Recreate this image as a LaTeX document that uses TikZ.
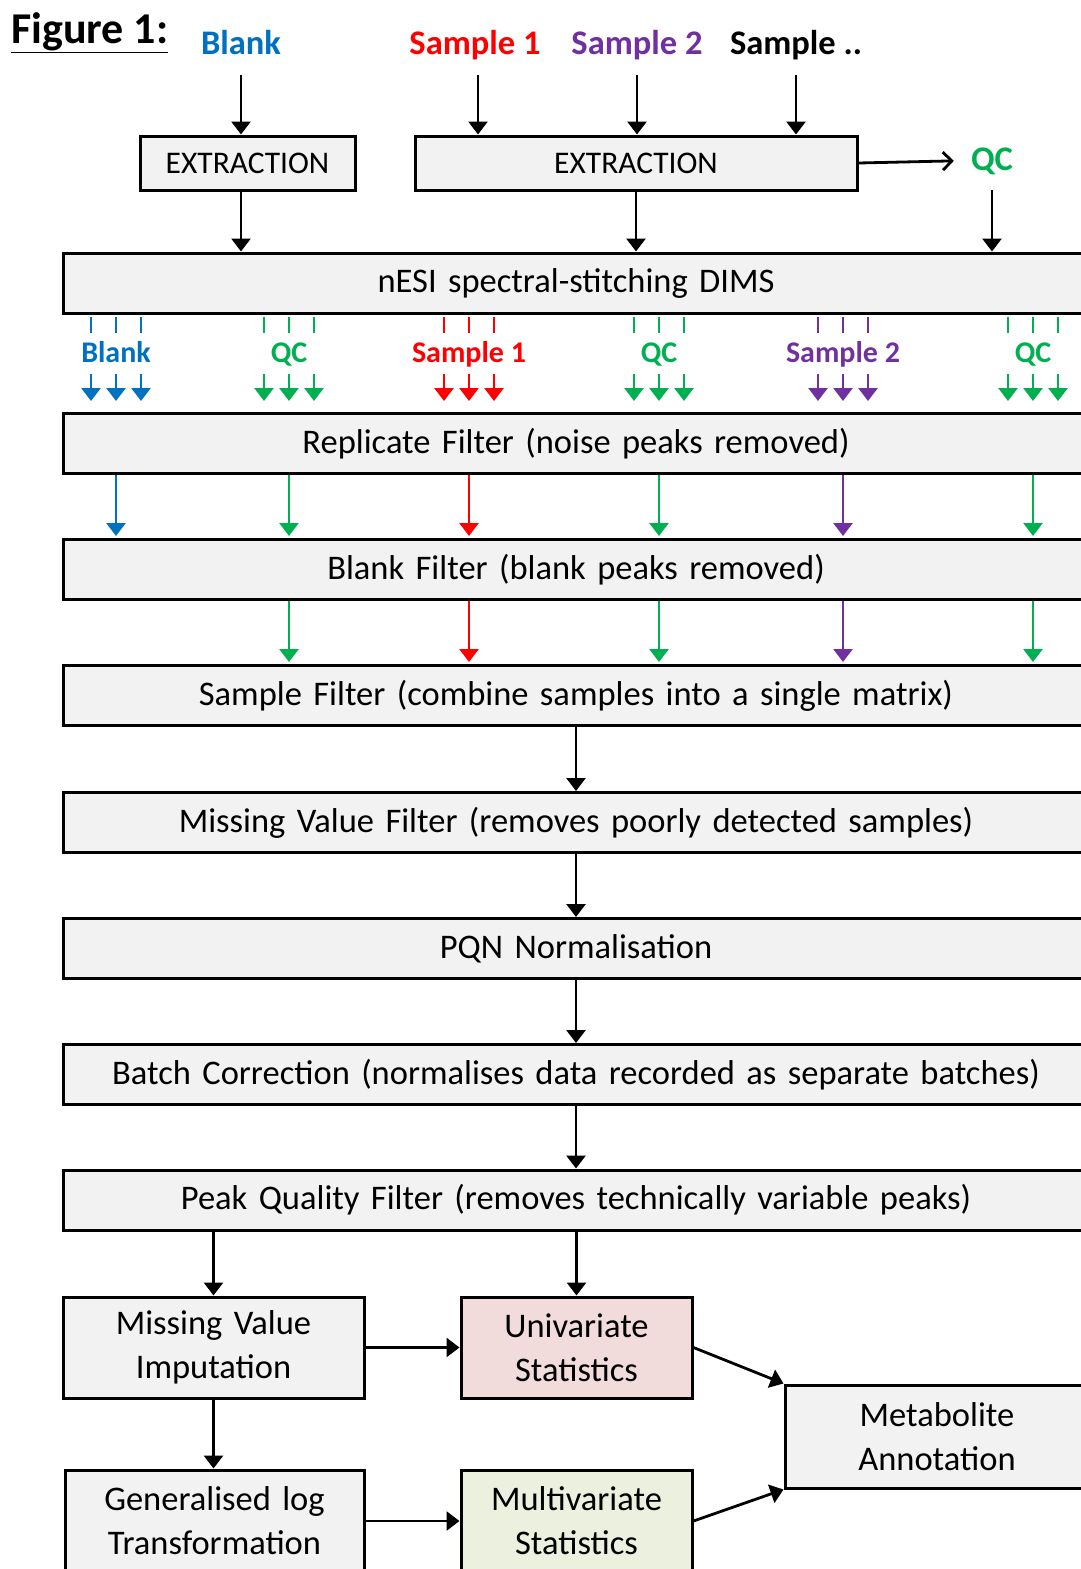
\documentclass[tikz,border=0pt]{standalone}
\usepackage{fontspec}
\setmainfont{Carlito}
\usetikzlibrary{calc,arrows.meta}

\definecolor{smpblue}{RGB}{0,112,192}
\definecolor{smpred}{RGB}{255,0,0}
\definecolor{smpgreen}{RGB}{0,176,80}
\definecolor{smppurple}{RGB}{112,48,160}
\definecolor{boxgray}{RGB}{242,242,242}
\definecolor{unipink}{RGB}{242,220,219}
\definecolor{multigreen}{RGB}{235,241,222}

\newcommand{\boxfont}{\fontsize{34.5}{44}\selectfont\spaceskip=0.33em\relax}
\newcommand{\extfont}{\fontsize{31.5}{38}\selectfont}
\newcommand{\toplabfont}{\fontsize{34.5}{40}\selectfont\bfseries}
\newcommand{\grplabfont}{\fontsize{30}{36}\selectfont\bfseries}

\begin{document}
\begin{tikzpicture}[x=1pt, y=-1pt,
  box/.style={draw, line width=3pt, fill=boxgray, inner sep=0pt, font=\boxfont, align=center},
  wide/.style={box, minimum width=1026pt, minimum height=60pt},
  arr/.style={-{Triangle[width=19pt,length=13pt]}, line width=2.8pt},
  tick/.style={line width=2.6pt}]

\useasboundingbox (0,0) rectangle (1080,1569);

% Title
\node[anchor=base west, inner sep=0pt, font=\fontsize{44}{50}\selectfont\bfseries] (title) at (11,43) {\underline{Figure 1:}};

% Input labels
\node[anchor=base, inner sep=0pt, font=\toplabfont, text=smpblue] (blank) at (241,54) {Blank};
\node[anchor=base, inner sep=0pt, font=\toplabfont, text=smpred] (smpa) at (475,54) {Sample 1};
\node[anchor=base, inner sep=0pt, font=\toplabfont, text=smppurple] (smpb) at (637,54) {Sample 2};
\node[anchor=base, inner sep=0pt, font=\toplabfont] (smpc) at (796,54) {Sample ..};

% Extraction
\node[box, font=\extfont, minimum width=215pt, minimum height=54pt] (ext1) at (247.5,163) {EXTRACTION};
\node[box, font=\extfont, minimum width=442pt, minimum height=54pt] (ext2) at (636,163) {EXTRACTION};
\node[anchor=base, inner sep=0pt, font=\toplabfont, text=smpgreen] (qctop) at (992,170) {QC};

\draw[arr] ($(blank.base)+(0,21)$) -- (blank.base |- ext1.north);
\draw[arr] ($(smpa.base)+(3,21)$) -- ($(smpa.base |- ext2.north)+(3,0)$);
\draw[arr] ($(smpb.base)+(0,21)$) -- (smpb.base |- ext2.north);
\draw[arr] ($(smpc.base)+(0,21)$) -- (smpc.base |- ext2.north);
\draw[-{Straight Barb[length=9pt,width=18pt]}, line width=2.8pt] (ext2.east) -- ($(qctop.west)+(-17,0)$);

% Main pipeline
\node[wide] (dims) at (576,283) {nESI spectral-stitching DIMS};
\node[wide] (rep) at (576,443.5) {Replicate Filter (noise peaks removed)};
\node[wide] (blkf) at (576,569.5) {Blank Filter (blank peaks removed)};
\node[wide] (smpf) at (576,695.5) {Sample Filter (combine samples into a single matrix)};
\node[wide] (mvf) at (576,822.5) {Missing Value Filter (removes poorly detected samples)};
\node[wide] (pqn) at (576,948.5) {PQN Normalisation};
\node[wide] (batch) at (576,1074.5) {Batch Correction (normalises data recorded as separate batches)};
\node[wide] (peak) at (576,1200) {Peak Quality Filter (removes technically variable peaks)};

\draw[arr] (blank.base |- ext1.south) -- (blank.base |- dims.north);
\draw[arr] (ext2.south) -- (ext2.south |- dims.north);
\draw[arr] ($(qctop.base)+(0,20)$) -- (qctop.base |- dims.north);

% Replicates per sample
\foreach \lab/\col/\cx [count=\i] in {Blank/smpblue/116, QC/smpgreen/289, Sample 1/smpred/469, QC/smpgreen/659, Sample 2/smppurple/843, QC/smpgreen/1033} {
  \node[anchor=base, inner sep=0pt, font=\grplabfont, text=\col] (grp\i) at (\cx,362) {\lab};
  \foreach \dx in {-25,0,25} {
    \draw[tick, \col] ($(dims.south -| grp\i)+(\dx,2)$) -- ++(0,16);
    \draw[arr, \col] ($(grp\i.base)+(\dx,12)$) -- ($(rep.north -| grp\i)+(\dx,-11)$);
  }
}

% Coloured filter arrows
\foreach \i/\col in {1/smpblue, 2/smpgreen, 3/smpred, 4/smpgreen, 5/smppurple, 6/smpgreen}
  \draw[arr, \col, shorten >=2pt] (rep.south -| grp\i) -- (blkf.north -| grp\i);
\foreach \i/\col in {2/smpgreen, 3/smpred, 4/smpgreen, 5/smppurple, 6/smpgreen}
  \draw[arr, \col, shorten >=2pt] (blkf.south -| grp\i) -- (smpf.north -| grp\i);

\draw[arr] (smpf.south) -- (mvf.north);
\draw[arr] (mvf.south) -- (pqn.north);
\draw[arr] (pqn.south) -- (batch.north);
\draw[arr] (batch.south) -- (peak.north);

% Statistics
\node[box, minimum width=301pt, minimum height=101pt] (mvi) at (213.5,1347.5) {Missing Value\\Imputation};
\node[box, fill=unipink, minimum width=231pt, minimum height=101pt] (uni) at (576.5,1347.5) {Univariate\\Statistics};
\node[box, minimum width=299pt, minimum height=102pt] (glt) at (214.5,1521) {Generalised log\\Transformation};
\node[box, fill=multigreen, minimum width=231pt, minimum height=102pt] (ms) at (576.5,1521) {Multivariate\\Statistics};
\node[box, minimum width=304pt, minimum height=103pt] (ma) at (937,1436.5) {Metabolite\\Annotation};

\draw[arr] (peak.south -| mvi.north) -- (mvi.north);
\draw[arr] (peak.south -| uni.north) -- (uni.north);
\draw[arr] (mvi.east) -- (uni.west);
\draw[arr] (mvi.south) -- (mvi.south |- glt.north);
\draw[arr] (glt.east) -- (ms.west);
\draw[arr] (uni.east) -- (ma.north west);
\draw[arr] (ms.east) -- (ma.south west);
\end{tikzpicture}
\end{document}
